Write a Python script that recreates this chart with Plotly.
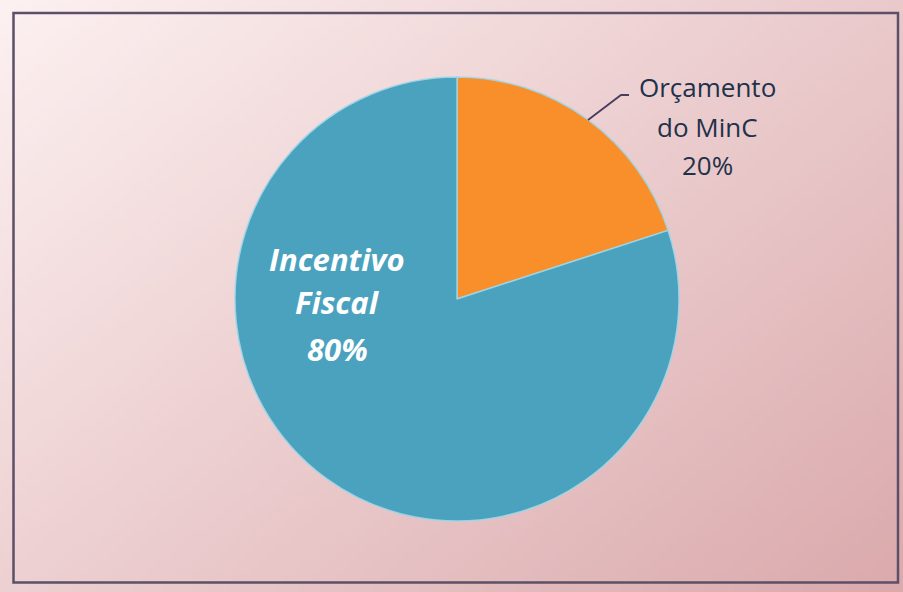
import base64, struct, zlib
import numpy as np
import plotly.graph_objects as go

labels = ["Orçamento do MinC", "Incentivo Fiscal"]
values = [20, 80]
colors = ["#F98F2A", "#4BA2BE"]
label_lines = [["Orçamento", "do MinC"], ["Incentivo", "Fiscal"]]

W, H = 903, 592

# diagonal gradient background as PNG data URI
def gradient_png(w=120, h=80, c0=(253, 241, 241), c1=(219, 170, 173)):
    xs = np.linspace(0, 1, w)[None, :]
    ys = np.linspace(0, 1, h)[:, None]
    t = (xs * 0.55 + ys * 0.45)
    img = np.zeros((h, w, 3), dtype=np.uint8)
    for k in range(3):
        img[:, :, k] = np.clip(c0[k] + (c1[k] - c0[k]) * t, 0, 255).astype(np.uint8)
    raw = b"".join(b"\x00" + img[r].tobytes() for r in range(h))
    def chunk(tag, data):
        return struct.pack(">I", len(data)) + tag + data + struct.pack(">I", zlib.crc32(tag + data) & 0xffffffff)
    png = b"\x89PNG\r\n\x1a\n" + chunk(b"IHDR", struct.pack(">IIBBBBB", w, h, 8, 2, 0, 0, 0)) \
        + chunk(b"IDAT", zlib.compress(raw, 9)) + chunk(b"IEND", b"")
    return "data:image/png;base64," + base64.b64encode(png).decode()

fig = go.Figure(go.Pie(
    labels=labels, values=values, sort=False, direction="clockwise", rotation=0,
    marker=dict(colors=colors, line=dict(color="rgba(160,215,232,0.9)", width=1.5)),
    textinfo="none", hoverinfo="label+percent", showlegend=False,
    domain=dict(x=[235 / W, 679 / W], y=[(H - 521) / H, (H - 77) / H]),
))

fig.add_layout_image(dict(source=gradient_png(), xref="paper", yref="paper", x=0, y=1,
                          sizex=1, sizey=1, sizing="stretch", layer="below"))

fig.add_shape(type="rect", xref="paper", yref="paper",
              x0=13.5 / W, x1=898 / W, y0=1 - 582.5 / H, y1=1 - 13 / H,
              line=dict(color="#5B5068", width=2.5))

# leader line
fig.add_shape(type="path", xref="paper", yref="paper",
              path=f"M {588/W} {1-120/H} L {621/W} {1-95/H} L {629/W} {1-95/H}",
              line=dict(color="#4A3C5C", width=1.8))

def add_lines(lines, xc, baselines, size, color, bold_italic):
    for txt, bl in zip(lines, baselines):
        t = f"<b><i>{txt}</i></b>" if bold_italic else txt
        fig.add_annotation(text=t, xref="paper", yref="paper",
                           x=xc / W, y=1 - (bl - 0.37 * size) / H,
                           xanchor="center", yanchor="middle", showarrow=False,
                           font=dict(family="Open Sans", size=size, color=color))

add_lines(label_lines[1] + [f"{values[1]}%"], 337, [270, 313, 360], 31, "white", True)
add_lines(label_lines[0] + [f"{values[0]}%"], 707, [97, 137, 175], 26, "#22314A", False)

fig.update_layout(width=W, height=H, margin=dict(l=0, r=0, t=0, b=0),
                  paper_bgcolor="white", plot_bgcolor="rgba(0,0,0,0)")
fig.write_html("out.html", config={"displayModeBar": False},
               post_script="document.body.style.margin='0';document.body.style.overflow='hidden';")
